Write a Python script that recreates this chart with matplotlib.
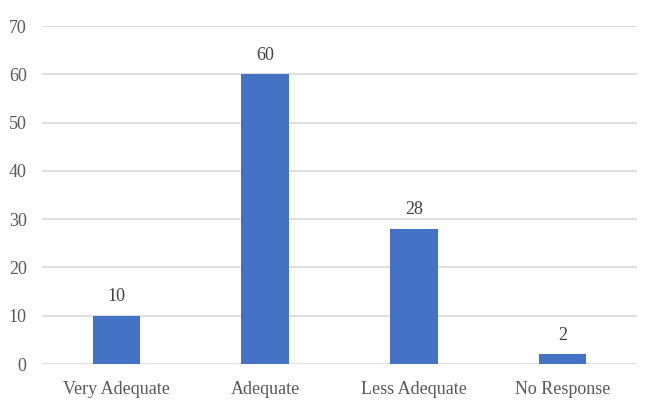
import matplotlib
matplotlib.use("Agg")
import matplotlib.pyplot as plt

categories = ["Very Adequate", "Adequate", "Less Adequate", "No Response"]
values = [10, 60, 28, 2]
yticks = [0, 10, 20, 30, 40, 50, 60, 70]

plt.rcParams["font.family"] = ["Liberation Serif", "DejaVu Serif"]
text_color = "#595959"
bar_color = "#4472C4"

fig = plt.figure(figsize=(6.48, 4.04), dpi=100)
ax = fig.add_axes([0.0648, 0.099, 0.918, 0.8366])

x = list(range(len(categories)))
bars = ax.bar(x, values, width=0.32, color=bar_color, zorder=3)
for xi, v in zip(x, values):
    ax.text(xi, v + 2.2, str(v), ha="center", va="bottom", fontsize=13, color="#404040")

ax.set_xlim(-0.5, len(categories) - 0.5)
ax.set_ylim(0, 70)
ax.set_yticks(yticks)
ax.set_xticks(x)
ax.set_xticklabels(categories)
ax.grid(axis="y", color="#D9D9D9", linewidth=1.2, zorder=0)
for s in ax.spines.values():
    s.set_visible(False)
ax.tick_params(axis="both", length=0, labelsize=13, labelcolor=text_color)
ax.tick_params(axis="y", pad=11)
ax.tick_params(axis="x", pad=12)

fig.savefig("out.png", dpi=100)
